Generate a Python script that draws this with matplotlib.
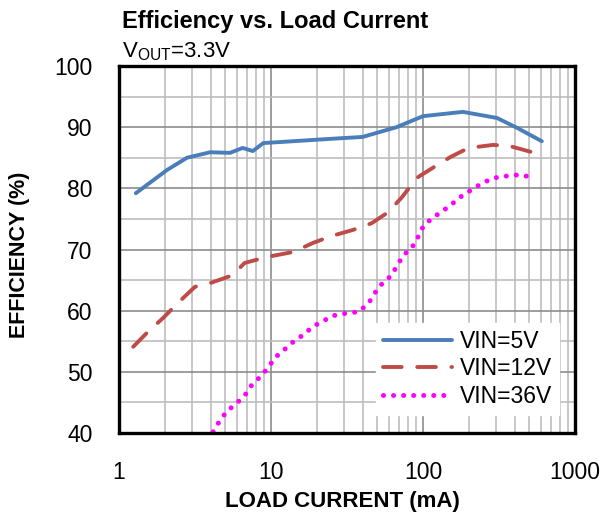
import matplotlib
matplotlib.use("Agg")
import matplotlib.pyplot as plt
from matplotlib.ticker import FixedLocator, NullFormatter, FixedFormatter

plt.rcParams['font.family'] = ['Liberation Sans', 'DejaVu Sans']

# VIN = 5V
x5 = [1.29, 2.07, 2.8, 3.98, 5.37, 6.5, 7.6, 8.9, 12, 25, 40, 67, 100, 183, 307, 415, 605]
y5 = [79.2, 83.0, 85.0, 85.9, 85.8, 86.6, 86.1, 87.4, 87.6, 88.1, 88.4, 90.0, 91.8, 92.5, 91.5, 89.9, 87.7]
# VIN = 12V
x12 = [1.24, 1.53, 1.95, 2.45, 3.16, 3.97, 5.6, 6.7, 9.5, 14, 19, 25, 34.6, 46, 59, 73, 91, 115, 151, 199, 290, 373, 524, 605]
y12 = [54.1, 56.4, 58.8, 61.3, 63.9, 64.5, 65.8, 67.8, 68.8, 69.6, 71.1, 72.2, 73.2, 74.3, 76.1, 78.6, 81.7, 83.3, 85.1, 86.6, 87.1, 86.9, 85.9, 85.1]
# VIN = 36V
x36 = [4.16, 4.55, 5.1, 5.9, 6.7, 7.4, 8.5, 9.6, 10.6, 12.2, 14, 16.2, 18.9, 21.9, 25.9, 31.6, 37.4,
       43.6, 47.6, 53.7, 61.7, 67.4, 74, 85, 93, 101, 116, 135, 158, 181, 213, 247, 293, 353, 422, 505]
y36 = [40.2, 41.8, 43.5, 44.8, 46.1, 47.7, 49.2, 50.7, 52.3, 53.6, 54.9, 56.0, 57.4, 58.3, 59.2, 59.6, 59.8,
       61.1, 62.7, 64.4, 65.7, 67.3, 69.0, 70.4, 72.1, 73.9, 75.2, 76.3, 77.6, 78.8, 79.9, 80.9, 81.7, 82.0, 82.2, 81.9]

series_labels = ["VIN=5V", "VIN=12V", "VIN=36V"]
x_ticks = [1, 10, 100, 1000]
x_ticklabels = ["1", "10", "100", "1000"]
y_ticks = [40, 50, 60, 70, 80, 90, 100]

fig = plt.figure(figsize=(6.02, 5.16), dpi=100)
ax = fig.add_axes([119/602, 1-433/516, (575-119)/602, (433-66)/516])

ax.set_xscale('log')
ax.set_xlim(1, 1000)
ax.set_ylim(40, 100)

# grid
minor_x = [m * 10**d for d in range(0, 3) for m in range(2, 10)]
for v in minor_x:
    ax.axvline(v, color='#bdbdbd', lw=1.2, zorder=0)
for v in [10, 100]:
    ax.axvline(v, color='#8c8c8c', lw=1.2, zorder=0)
for v in range(45, 100, 10):
    ax.axhline(v, color='#bdbdbd', lw=1.2, zorder=0)
for v in range(50, 100, 10):
    ax.axhline(v, color='#8c8c8c', lw=1.2, zorder=0)

ax.plot(x5, y5, color='#4a7ebb', lw=2.8, solid_capstyle='round', solid_joinstyle='round',
        label=series_labels[0], zorder=3)
ax.plot(x12, y12, color='#be4b48', lw=2.8, linestyle=(0, (4.8, 4.0)), dash_capstyle='round',
        label=series_labels[1], zorder=3)
ax.plot(x36, y36, color='#ff00ff', lw=3.6, linestyle=(0, (0.01, 2.0)), dash_capstyle='round',
        label=series_labels[2], zorder=3)

ax.xaxis.set_major_locator(FixedLocator(x_ticks))
ax.xaxis.set_major_formatter(FixedFormatter(x_ticklabels))
ax.xaxis.set_minor_locator(FixedLocator(minor_x))
ax.xaxis.set_minor_formatter(NullFormatter())
ax.set_yticks(y_ticks)
ax.tick_params(axis='both', which='both', length=0, labelsize=16.5)
ax.tick_params(axis='x', pad=20)
ax.tick_params(axis='y', pad=19)

for s in ax.spines.values():
    s.set_linewidth(2.4)
    s.set_color('black')
    s.set_zorder(5)

leg = ax.legend(loc='lower right', bbox_to_anchor=(0.965, 0.05), fontsize=16.5, frameon=True,
                fancybox=False, handlelength=3.0, handletextpad=0.35, borderpad=0.3,
                labelspacing=0.2, borderaxespad=0)
leg.get_frame().set_edgecolor('white')
leg.get_frame().set_facecolor('white')
leg.get_frame().set_alpha(1)

fig.text(122/602, 1-28/516, "Efficiency vs. Load Current", fontsize=17, fontweight='bold',
         ha='left', va='baseline')
fig.text(122/602, 1-57/516, r"V$_{\mathregular{OUT}}$=3.3V", fontsize=16, ha='left', va='baseline')
fig.text(20/602, 1-255/516, "EFFICIENCY (%)", fontsize=15.5, fontweight='bold', rotation=90,
         ha='center', va='center')
fig.text(342/602, 1-502/516, "LOAD CURRENT (mA)", fontsize=16, fontweight='bold',
         ha='center', va='center')

fig.savefig("out.png", dpi=100)
